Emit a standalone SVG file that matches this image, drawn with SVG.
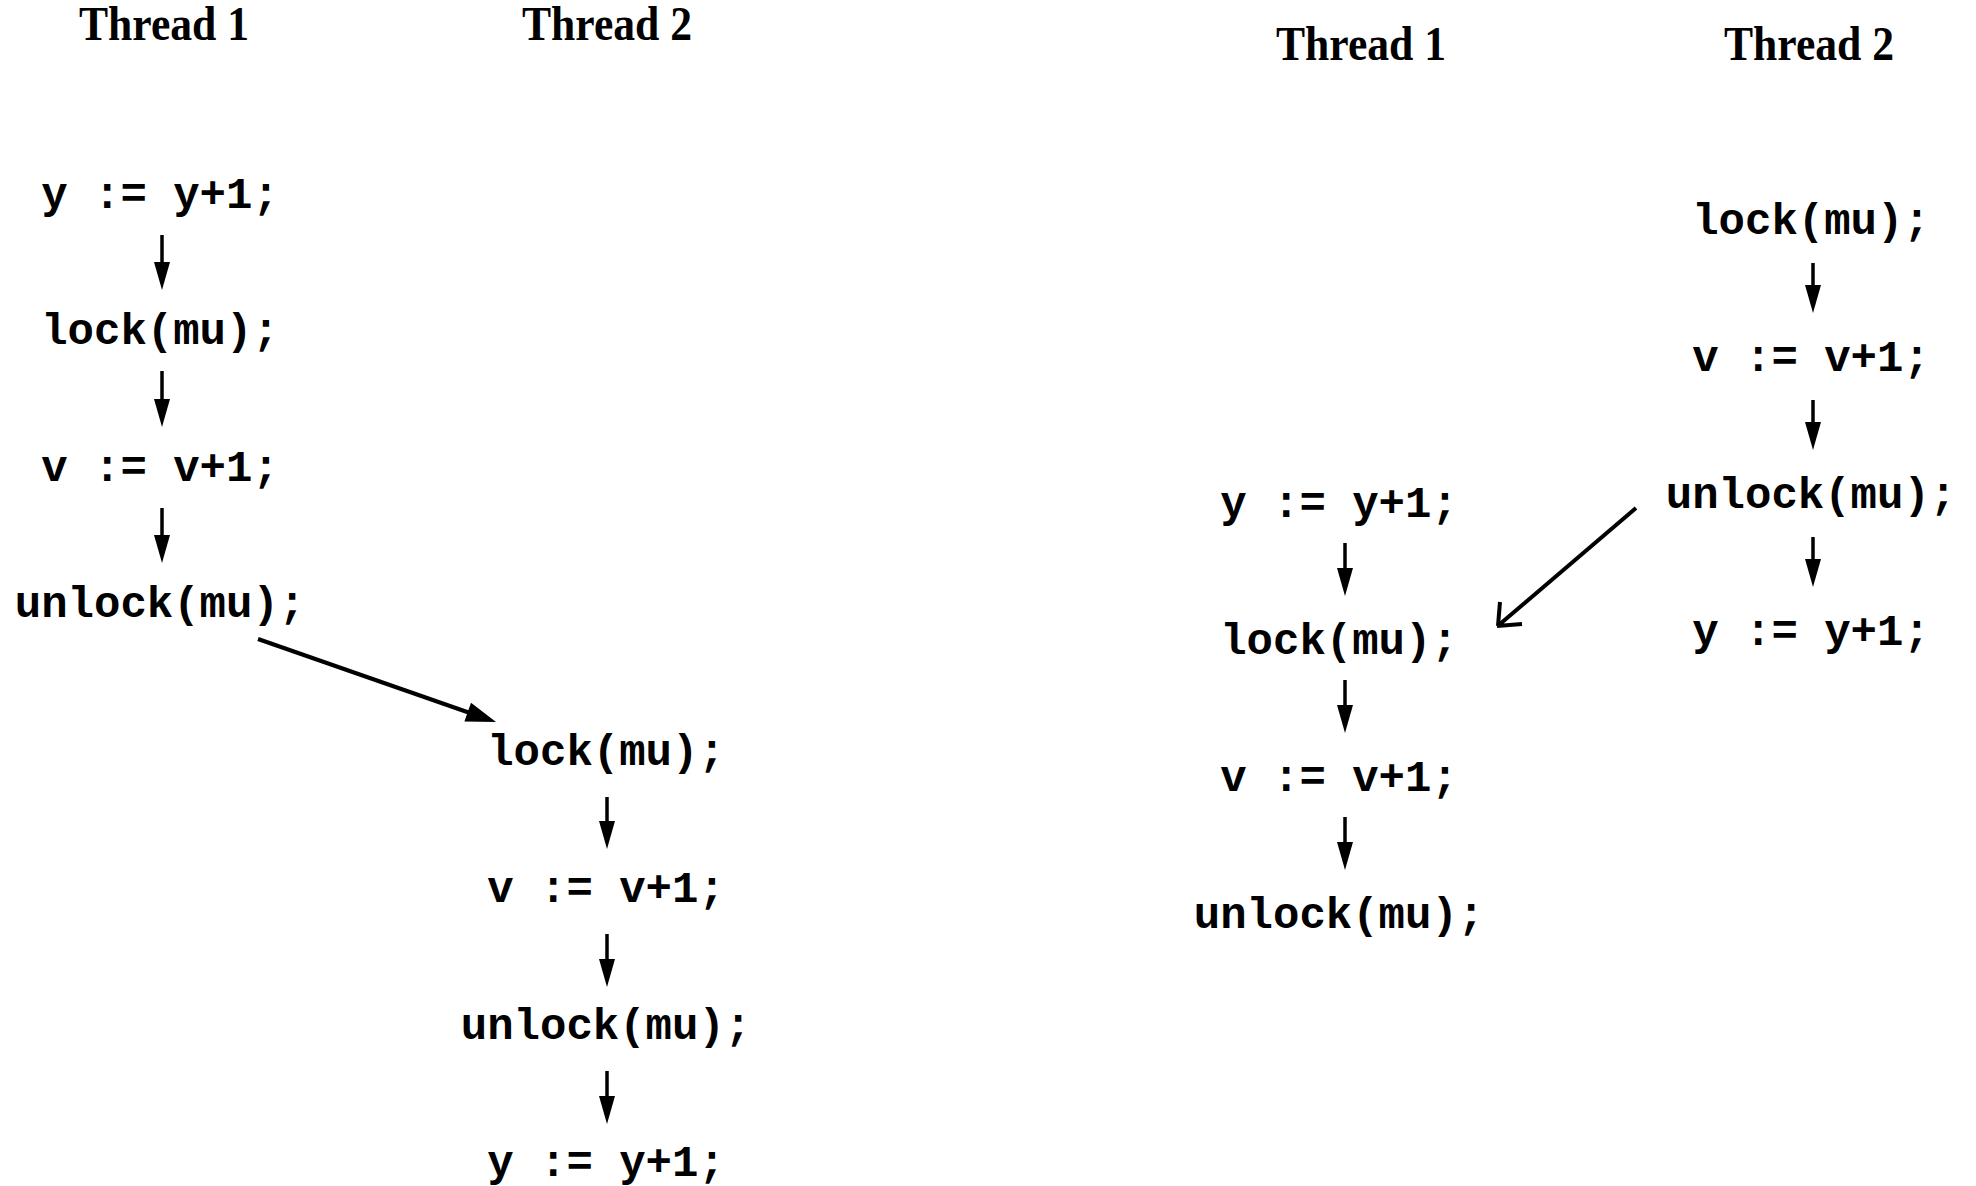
<svg xmlns="http://www.w3.org/2000/svg" width="1976" height="1186" viewBox="0 0 1976 1186">
<style>
.title{font-family:"Liberation Serif","Times New Roman",serif;font-weight:bold;font-size:48px;fill:#000;text-anchor:middle}
.code{font-family:"Liberation Mono","Courier New",monospace;font-weight:bold;font-size:44px;fill:#000;text-anchor:middle;white-space:pre}
.v{stroke:#000;stroke-width:3.5;fill:none}
.d{stroke:#000;stroke-width:4;fill:none}
.h{fill:#000;stroke:none}
</style>
<defs>
<path id="dh" d="M-8,-28 L8,-28 L0,0 Z"/>
</defs>
<rect width="1976" height="1186" fill="#fff"/>
<g id="titles">
<text class="title" x="164" y="40" textLength="170" lengthAdjust="spacingAndGlyphs">Thread 1</text>
<text class="title" x="607" y="40" textLength="170" lengthAdjust="spacingAndGlyphs">Thread 2</text>
<text class="title" x="1361" y="60" textLength="170" lengthAdjust="spacingAndGlyphs">Thread 1</text>
<text class="title" x="1809" y="60" textLength="170" lengthAdjust="spacingAndGlyphs">Thread 2</text>
</g>
<g id="a-t1-n1"><text class="code" x="160" y="208">y := y+1;</text></g>
<g id="a-t1-n2"><text class="code" x="160" y="344">lock(mu);</text></g>
<g id="a-t1-n3"><text class="code" x="160" y="481">v := v+1;</text></g>
<g id="a-t1-n4"><text class="code" x="160" y="617">unlock(mu);</text></g>
<g id="a-t2-n1"><text class="code" x="606" y="765">lock(mu);</text></g>
<g id="a-t2-n2"><text class="code" x="606" y="902">v := v+1;</text></g>
<g id="a-t2-n3"><text class="code" x="606" y="1039">unlock(mu);</text></g>
<g id="a-t2-n4"><text class="code" x="606" y="1176">y := y+1;</text></g>
<g id="b-t2-n1"><text class="code" x="1811" y="234">lock(mu);</text></g>
<g id="b-t2-n2"><text class="code" x="1811" y="371">v := v+1;</text></g>
<g id="b-t2-n3"><text class="code" x="1811" y="508">unlock(mu);</text></g>
<g id="b-t2-n4"><text class="code" x="1811" y="645">y := y+1;</text></g>
<g id="b-t1-n1"><text class="code" x="1339" y="517">y := y+1;</text></g>
<g id="b-t1-n2"><text class="code" x="1339" y="654">lock(mu);</text></g>
<g id="b-t1-n3"><text class="code" x="1339" y="791">v := v+1;</text></g>
<g id="b-t1-n4"><text class="code" x="1339" y="928">unlock(mu);</text></g>
<g id="connectors">
<line class="v" x1="162" y1="235" x2="162" y2="268"/><use href="#dh" class="h" x="162" y="290"/>
<line class="v" x1="162" y1="371" x2="162" y2="405"/><use href="#dh" class="h" x="162" y="427"/>
<line class="v" x1="162" y1="508" x2="162" y2="541"/><use href="#dh" class="h" x="162" y="563"/>
<line class="d" x1="258" y1="639" x2="470" y2="713"/><polygon class="h" points="496,722 464.4,721.5 471,702.7"/>
<line class="v" x1="607" y1="797" x2="607" y2="827"/><use href="#dh" class="h" x="607" y="849"/>
<line class="v" x1="607" y1="934" x2="607" y2="965"/><use href="#dh" class="h" x="607" y="987"/>
<line class="v" x1="607" y1="1071" x2="607" y2="1102"/><use href="#dh" class="h" x="607" y="1124"/>
<line class="v" x1="1813" y1="263" x2="1813" y2="291"/><use href="#dh" class="h" x="1813" y="313"/>
<line class="v" x1="1813" y1="400" x2="1813" y2="428"/><use href="#dh" class="h" x="1813" y="450"/>
<line class="v" x1="1813" y1="537" x2="1813" y2="565"/><use href="#dh" class="h" x="1813" y="587"/>
<line class="v" x1="1345" y1="543" x2="1345" y2="574"/><use href="#dh" class="h" x="1345" y="596"/>
<line class="v" x1="1345" y1="680" x2="1345" y2="711"/><use href="#dh" class="h" x="1345" y="733"/>
<line class="v" x1="1345" y1="817" x2="1345" y2="848"/><use href="#dh" class="h" x="1345" y="870"/>
<path class="d" d="M1636,508 L1500,624 M1498,626 L1500,602 M1497,626 L1522,624" stroke-width="5"/>
</g>
</svg>
